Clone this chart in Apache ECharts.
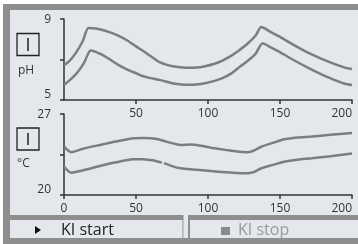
<!DOCTYPE html>
<html>
<head>
<meta charset="utf-8">
<title>pH / °C</title>
<script src="https://cdn.jsdelivr.net/npm/echarts@6/dist/echarts.min.js"></script>
</head>
<body style="margin:0;background:#fff">
<div id="main" style="width:358px;height:244px"></div>
<script>
// pH curves (top panel)
var phHighX = [0, 4, 8, 13, 17, 22, 26, 32, 38, 44, 50, 55, 60, 66, 72, 78, 86, 92, 98, 104, 110, 116, 121, 127, 133, 137, 143, 149, 160, 172, 184, 195, 200];
var phHighY = [6.72, 6.95, 7.3, 7.9, 8.55, 8.53, 8.47, 8.34, 8.17, 7.94, 7.65, 7.42, 7.17, 6.88, 6.72, 6.64, 6.59, 6.6, 6.67, 6.78, 6.95, 7.18, 7.42, 7.75, 8.17, 8.6, 8.38, 8.15, 7.7, 7.25, 6.88, 6.6, 6.53];
var phLowX = [0, 4, 9, 14, 18.5, 22, 26, 32, 38, 44, 50, 55, 60, 67, 75, 80, 86, 92, 98, 104, 110, 116, 121, 127, 133, 138, 143, 149, 160, 172, 184, 195, 200];
var phLowY = [5.75, 5.98, 6.33, 6.85, 7.45, 7.38, 7.25, 7.0, 6.72, 6.5, 6.32, 6.17, 6.08, 5.98, 5.83, 5.78, 5.75, 5.77, 5.83, 5.93, 6.08, 6.3, 6.58, 6.9, 7.28, 7.8, 7.62, 7.4, 6.95, 6.5, 6.1, 5.8, 5.74];

// temperature curves (bottom panel)
var tHighX = [0, 5, 12, 20, 25, 35, 48, 55, 60, 66, 71, 77, 81, 88, 95, 102, 112, 120, 127, 131, 137, 145, 153, 162, 172, 185, 200];
var tHighY = [24.2, 23.7, 23.95, 24.2, 24.32, 24.6, 24.9, 24.93, 24.9, 24.8, 24.61, 24.42, 24.33, 24.36, 24.25, 24.09, 23.9, 23.75, 23.69, 23.8, 24.17, 24.5, 24.81, 24.97, 25.05, 25.2, 25.36];
var tLowX = [0, 5, 12, 25, 35, 48, 55, 60, 65, 68, 68.6, 69.4, 75, 81, 90, 102, 112, 120, 127, 131, 137, 145, 153, 162, 172, 185, 200];
var tLowY = [22.45, 21.93, 22.1, 22.51, 22.8, 23.09, 23.1, 23.02, 22.9, 22.8, null, 22.75, 22.5, 22.31, 22.2, 22.07, 21.97, 21.9, 21.88, 21.95, 22.31, 22.6, 22.88, 23.05, 23.17, 23.35, 23.59];

var phTicks = [5, 7, 9];
var phLabels = [5, 9];
var tTicks = [20, 23.5, 27];
var tLabels = [20, 27];

var FONT = 'Open Sans';
var LINE = '#7d7d7d';
var AXIS = '#333';
var PANEL = '#e4e8ec';
var FRAME = '#8e8e8e';

function pairs(xs, ys) {
    var out = [];
    for (var i = 0; i < xs.length; i++) out.push([xs[i], ys[i]]);
    return out;
}

function xAxisOpt(gridIndex, showMin) {
    return {
        gridIndex: gridIndex, type: 'value', min: 0, max: 200, interval: 50, z: 10,
        axisLine: {onZero: false, lineStyle: {color: AXIS, width: 1.5}},
        axisTick: {length: 4, lineStyle: {color: AXIS, width: 1.5}},
        axisLabel: {
            showMinLabel: showMin, alignMaxLabel: 'right', margin: 8,
            color: '#333', fontSize: 12, fontFamily: FONT
        },
        splitLine: {show: false}
    };
}

function yAxisOpt(gridIndex, min, max, ticks, labels) {
    return {
        gridIndex: gridIndex, type: 'value', min: min, max: max, z: 10,
        axisLine: {show: true, lineStyle: {color: AXIS, width: 1.5}},
        axisTick: {show: true, length: 4, customValues: ticks, lineStyle: {color: AXIS, width: 1.5}},
        axisLabel: {
            customValues: labels, margin: 13,
            formatter: function (v) { return v === min ? '{lo|' + v + '}' : '{hi|' + v + '}'; },
            rich: {
                lo: {fontSize: 12, fontFamily: FONT, color: '#333', padding: [0, 0, 10, 0]},
                hi: {fontSize: 12, fontFamily: FONT, color: '#333', padding: [2, 0, 0, 0]}
            }
        },
        splitLine: {show: false}
    };
}

function lineSeries(xi, yi, data) {
    return {
        type: 'line', xAxisIndex: xi, yAxisIndex: yi, data: data, z: 10,
        showSymbol: false, smooth: 0.25, connectNulls: false,
        lineStyle: {color: LINE, width: 2.5}
    };
}

var myChart = echarts.init(document.getElementById('main'));
var option = {
    backgroundColor: '#fff',
    animation: false,
    grid: [
        {left: 64, top: 19, width: 288, height: 81},
        {left: 64, top: 114, width: 288, height: 81}
    ],
    xAxis: [xAxisOpt(0, false), xAxisOpt(1, true)],
    yAxis: [
        yAxisOpt(0, 5, 9, phTicks, phLabels),
        yAxisOpt(1, 20, 27, tTicks, tLabels)
    ],
    series: [
        lineSeries(0, 0, pairs(phHighX, phHighY)),
        lineSeries(0, 0, pairs(phLowX, phLowY)),
        lineSeries(1, 1, pairs(tHighX, tHighY)),
        lineSeries(1, 1, pairs(tLowX, tLowY))
    ],
    graphic: [
        // frame and panel
        {type: 'rect', z: -10, shape: {x: 3, y: 4, width: 355, height: 240}, style: {fill: FRAME}},
        {type: 'rect', z: -9, shape: {x: 10, y: 10, width: 348, height: 205}, style: {fill: PANEL}},
        // buttons
        {type: 'rect', z: -9, shape: {x: 10, y: 220, width: 172, height: 18}, style: {fill: PANEL}},
        {type: 'rect', z: -9, shape: {x: 182, y: 220, width: 1.5, height: 18}, style: {fill: '#b4b8bc'}},
        {type: 'rect', z: -9, shape: {x: 183.5, y: 215, width: 4.5, height: 23}, style: {fill: PANEL}},
        {type: 'rect', z: -9, shape: {x: 190, y: 220, width: 168, height: 18}, style: {fill: PANEL}},
        {type: 'polygon', z: 20, shape: {points: [[35, 226], [35, 234], [41, 230]]}, style: {fill: '#111'}},
        {type: 'text', z: 20, x: 61, y: 230, style: {text: 'KI start', font: '16px "Open Sans"', fill: '#222', verticalAlign: 'middle'}},
        {type: 'rect', z: 20, shape: {x: 221, y: 227, width: 9, height: 8}, style: {fill: '#8a8a8a'}},
        {type: 'text', z: 20, x: 238, y: 230, style: {text: 'KI stop', font: '16px "Open Sans"', fill: '#9a9a9a', verticalAlign: 'middle'}},
        // unit boxes
        {type: 'rect', z: 20, shape: {x: 17, y: 33.5, width: 22, height: 22}, style: {fill: 'none', stroke: '#222', lineWidth: 1.3}},
        {type: 'line', z: 20, shape: {x1: 28, y1: 38, x2: 28, y2: 51}, style: {stroke: '#222', lineWidth: 1.5}},
        {type: 'text', z: 20, x: 18, y: 71, style: {text: 'pH', font: '12px "Open Sans"', fill: '#333', verticalAlign: 'middle'}},
        {type: 'rect', z: 20, shape: {x: 17, y: 128, width: 22, height: 22}, style: {fill: 'none', stroke: '#222', lineWidth: 1.3}},
        {type: 'line', z: 20, shape: {x1: 28, y1: 133, x2: 28, y2: 145}, style: {stroke: '#222', lineWidth: 1.5}},
        {type: 'text', z: 20, x: 17, y: 164, style: {text: '°C', font: '12px "Open Sans"', fill: '#333', verticalAlign: 'middle'}}
    ]
};
myChart.setOption(option);
</script>
</body>
</html>
